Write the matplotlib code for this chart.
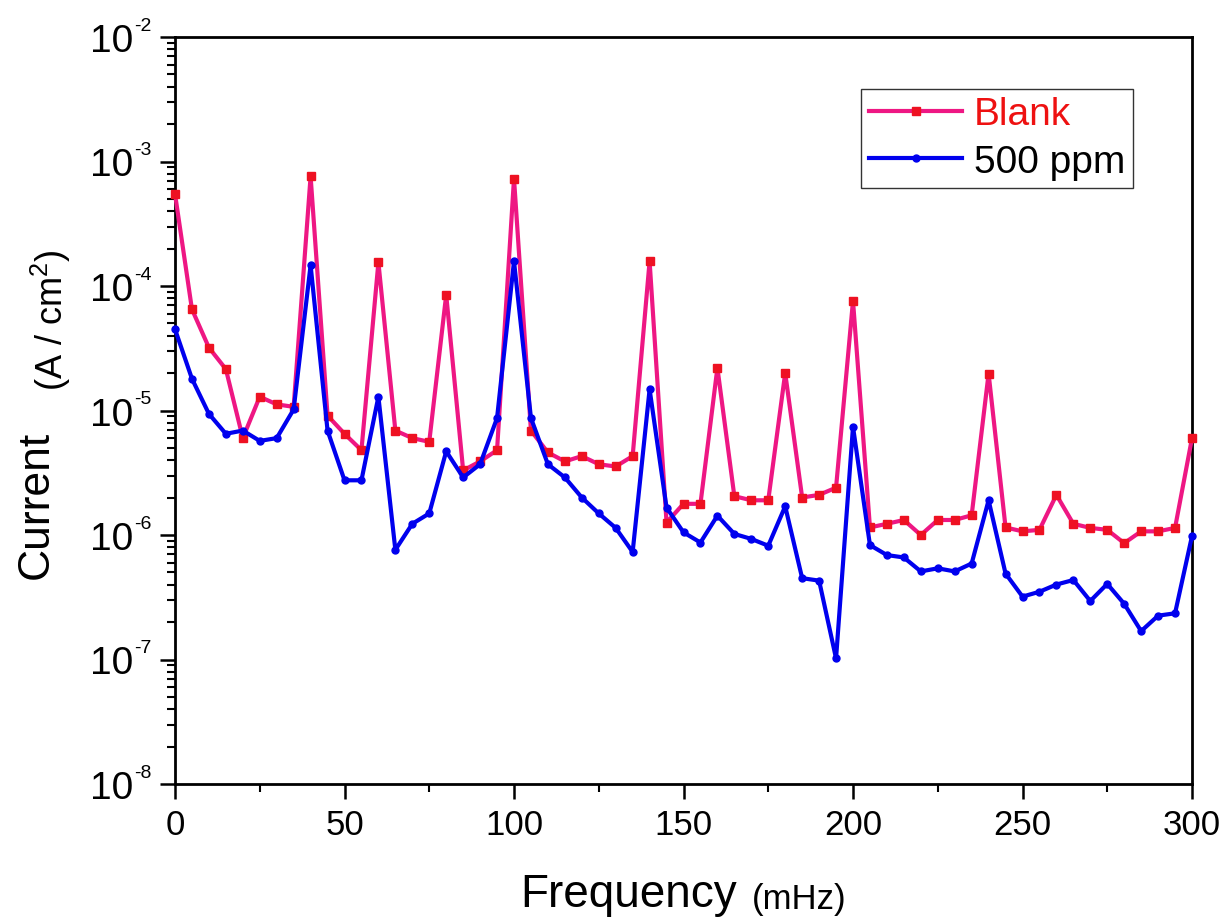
import numpy as np
import matplotlib
matplotlib.use('Agg')
import matplotlib.pyplot as plt
from matplotlib.ticker import FixedLocator, FuncFormatter

plt.rcParams['font.family'] = ['Liberation Sans', 'DejaVu Sans']
plt.rcParams['mathtext.fontset'] = 'custom'
plt.rcParams['mathtext.rm'] = 'Liberation Sans'
plt.rcParams['mathtext.it'] = 'Liberation Sans'
plt.rcParams['mathtext.default'] = 'regular'

# frequências (mHz)
freq = np.arange(0, 301, 5)

# Branco
blank = [5.5e-4, 6.5e-5, 3.2e-5, 2.15e-5, 6.0e-6, 1.29e-5, 1.12e-5, 1.07e-5, 7.6e-4, 9.1e-6,
         6.5e-6, 4.8e-6, 1.55e-4, 6.9e-6, 6.0e-6, 5.6e-6, 8.5e-5, 3.3e-6, 3.9e-6, 4.8e-6,
         7.3e-4, 6.9e-6, 4.6e-6, 3.9e-6, 4.3e-6, 3.7e-6, 3.55e-6, 4.3e-6, 1.58e-4, 1.26e-6,
         1.78e-6, 1.78e-6, 2.2e-5, 2.05e-6, 1.9e-6, 1.9e-6, 2.0e-5, 2.0e-6, 2.1e-6, 2.4e-6,
         7.6e-5, 1.15e-6, 1.23e-6, 1.32e-6, 1.0e-6, 1.32e-6, 1.32e-6, 1.44e-6, 1.98e-5, 1.15e-6,
         1.07e-6, 1.1e-6, 2.1e-6, 1.23e-6, 1.14e-6, 1.1e-6, 8.6e-7, 1.07e-6, 1.07e-6, 1.14e-6,
         6.0e-6]

# 500 ppm
ppm500 = [4.5e-5, 1.8e-5, 9.4e-6, 6.5e-6, 6.9e-6, 5.7e-6, 6.0e-6, 1.02e-5, 1.47e-4, 6.9e-6,
          2.75e-6, 2.75e-6, 1.29e-5, 7.6e-7, 1.23e-6, 1.49e-6, 4.7e-6, 2.9e-6, 3.7e-6, 8.7e-6,
          1.58e-4, 8.7e-6, 3.7e-6, 2.9e-6, 2.0e-6, 1.49e-6, 1.14e-6, 7.3e-7, 1.48e-5, 1.66e-6,
          1.05e-6, 8.7e-7, 1.43e-6, 1.02e-6, 9.3e-7, 8.2e-7, 1.7e-6, 4.5e-7, 4.3e-7, 1.02e-7,
          7.4e-6, 8.3e-7, 6.9e-7, 6.6e-7, 5.1e-7, 5.4e-7, 5.1e-7, 5.9e-7, 1.9e-6, 4.9e-7,
          3.2e-7, 3.5e-7, 4.0e-7, 4.35e-7, 2.95e-7, 4.05e-7, 2.8e-7, 1.69e-7, 2.25e-7, 2.35e-7,
          9.8e-7]

x_ticks = [0, 50, 100, 150, 200, 250, 300]
y_exps = [-8, -7, -6, -5, -4, -3, -2]

W, H = 1226, 920
fig = plt.figure(figsize=(W / 100, H / 100), dpi=100)
ax = fig.add_axes([175 / W, 1 - 785 / H, 1017 / W, 747 / H])

ax.plot(freq, blank, color='#EE1783', lw=3.0, marker='s', ms=5.8,
        mfc='#EE1122', mec='#EE1122', label='Blank', clip_on=False, zorder=3)
ax.plot(freq, ppm500, color='#0000EE', lw=3.0, marker='o', ms=5.0,
        mfc='#0000EE', mec='#0000EE', label='500 ppm', clip_on=False, zorder=4)

ax.set_yscale('log')
ax.set_xlim(0, 300)
ax.set_ylim(1e-8, 1e-2)

ax.xaxis.set_major_locator(FixedLocator(x_ticks))
ax.xaxis.set_minor_locator(FixedLocator([25, 75, 125, 175, 225, 275]))
ax.yaxis.set_major_locator(FixedLocator([10.0 ** e for e in y_exps]))
minors = [m * 10.0 ** e for e in y_exps[:-1] for m in range(2, 10)]
ax.yaxis.set_minor_locator(FixedLocator(minors))
# só "10" no rótulo, o expoente vai à parte (menor, estilo Origin)
ax.yaxis.set_major_formatter(FuncFormatter(lambda v, p: '10'))
ax.yaxis.set_minor_formatter(FuncFormatter(lambda v, p: ''))

ax.tick_params(axis='both', which='major', direction='out', length=11, width=1.8,
               top=False, right=False)
ax.tick_params(axis='both', which='minor', direction='out', length=5.5, width=1.5,
               top=False, right=False)
ax.tick_params(axis='x', labelsize=25, pad=6)
ax.tick_params(axis='y', labelsize=28, pad=19)
for s in ax.spines.values():
    s.set_linewidth(2)

for e in y_exps:
    ax.annotate('-%d' % abs(e), xy=(0, 10.0 ** e), xycoords=ax.get_yaxis_transform(),
                xytext=(-29.5, 8.6), textcoords='offset points', ha='left', va='center',
                fontsize=14, annotation_clip=False)

# rótulos dos eixos (posições em pixels da figura)
fig.text(520 / W, 1 - 907 / H, 'Frequency', fontsize=33, ha='left', va='baseline')
fig.text(752 / W, 1 - 909 / H, '(mHz)', fontsize=25, ha='left', va='baseline')
fig.text(48 / W, 1 - 505 / H, 'Current', fontsize=32, rotation=90,
         rotation_mode='anchor', ha='center', va='baseline')
fig.text(63 / W, 1 - 320 / H, r'(A / cm$^{2}$)', fontsize=26, rotation=90,
         rotation_mode='anchor', ha='center', va='baseline')

leg = ax.legend(loc='upper right', bbox_to_anchor=(0.942, 0.931), borderaxespad=0,
                fontsize=28, frameon=True, fancybox=False, edgecolor='#333333',
                framealpha=1, handlelength=2.4, handletextpad=0.3, borderpad=0.2,
                labelspacing=0.3)
leg.get_frame().set_linewidth(1.0)
leg.get_texts()[0].set_color('#EE1111')

fig.savefig('out.png', dpi=100)
